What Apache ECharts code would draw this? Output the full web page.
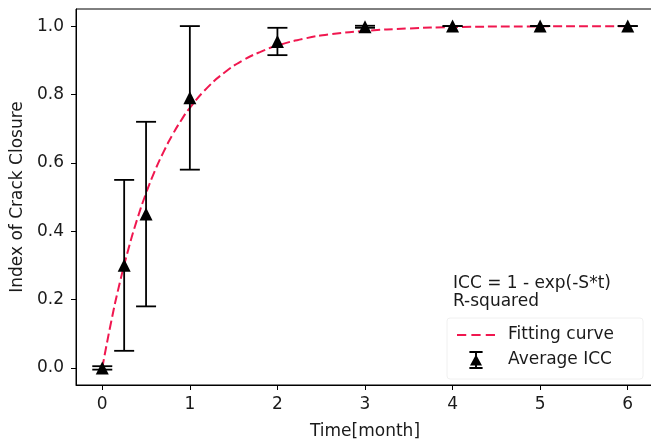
<!DOCTYPE html>
<html><head><meta charset="utf-8">
<script src="https://cdn.jsdelivr.net/npm/echarts@6/dist/echarts.min.js"></script>
<style>html,body{margin:0;padding:0;background:#fff}#c{width:651px;height:441px}</style>
</head><body><div id="c"></div>
<script>
// Measured averages with symmetric error (std)
const times = [0, 0.25, 0.5, 1, 2, 3, 4, 5, 6];
const avgICC = [0, 0.30, 0.45, 0.79, 0.955, 0.998, 1.0, 1.0, 1.0];
const errICC = [0.005, 0.25, 0.27, 0.21, 0.04, 0.003, 0, 0, 0];
// Fitting curve
const fitT = [0, 0.1, 0.2, 0.3, 0.4, 0.5, 0.6, 0.7, 0.8, 0.9, 1.0, 1.2, 1.4, 1.6, 1.8, 2.0, 2.3, 2.6, 3.0, 3.5, 4.0, 5.0, 6.0];
const fitICC = [0, 0.133, 0.249, 0.349, 0.436, 0.511, 0.576, 0.632, 0.681, 0.724, 0.761, 0.820, 0.865, 0.899, 0.924, 0.943, 0.963, 0.976, 0.986, 0.993, 0.997, 0.9992, 0.9998];
const xTicks = [0, 1, 2, 3, 4, 5, 6];
const yTicks = [0, 0.2, 0.4, 0.6, 0.8, 1.0];

const FONT = 'DejaVu Sans';
const FS = 17;
const TXT = '#1a1a1a';
const RED = '#f0174f';

const chart = echarts.init(document.getElementById('c'), null, {renderer: 'canvas'});
chart.setOption({
  animation: false,
  backgroundColor: '#fff',
  grid: {left: 76, top: 9, right: -3, bottom: 56, outerBoundsMode: 'none', containLabel: false, show: true, borderColor: '#000', borderWidth: 1, backgroundColor: 'transparent'},
  xAxis: {
    type: 'value', min: -0.3, max: 6.3,
    name: 'Time[month]', nameLocation: 'middle', nameGap: 38,
    nameTextStyle: {fontFamily: FONT, fontSize: FS, color: TXT},
    axisLine: {show: true, onZero: false, lineStyle: {color: '#000', width: 1}},
    axisTick: {show: true, inside: false, length: 5, customValues: xTicks, lineStyle: {color: '#000'}},
    axisLabel: {customValues: xTicks, fontFamily: FONT, fontSize: FS, color: TXT, margin: 11, formatter: v => String(v)},
    splitLine: {show: false}
  },
  yAxis: {
    type: 'value', min: -0.05, max: 1.05,
    name: 'Index of Crack Closure', nameLocation: 'middle', nameGap: 48, nameRotate: 90,
    nameTextStyle: {fontFamily: FONT, fontSize: FS, color: TXT},
    axisLine: {show: true, onZero: false, lineStyle: {color: '#000', width: 1}},
    axisTick: {show: true, inside: false, length: 5, customValues: yTicks, lineStyle: {color: '#000'}},
    axisLabel: {customValues: yTicks, fontFamily: FONT, fontSize: FS, color: TXT, margin: 12, formatter: v => v.toFixed(1)},
    splitLine: {show: false}
  },
  legend: {
    orient: 'vertical', left: 457, top: 326, itemGap: 7, itemWidth: 38, itemHeight: 18, padding: 0,
    textStyle: {fontFamily: FONT, fontSize: FS, color: TXT, lineHeight: 18, padding: [0, 0, 0, 8]},
    data: [
      {name: 'Fitting curve', icon: 'path://M0,0H9V2H0Z M14,0H23V2H14Z M28,0H37V2H28Z', itemStyle: {color: RED}},
      {name: 'Average ICC', icon: 'path://M0,0H11V1.6H0Z M4.7,0H6.3V15H4.7Z M0,13.4H11V15H0Z M5.5,3L10.5,12H0.5Z', itemStyle: {color: '#000'}}
    ]
  },
  graphic: [
    {type: 'rect', shape: {x: 447, y: 318, width: 196, height: 61, r: 3}, style: {fill: 'none', stroke: '#f0f0f0', lineWidth: 1}},
    {type: 'text', left: 453, top: 275, style: {text: 'ICC = 1 - exp(-S*t)', font: FS + 'px ' + FONT, fill: TXT}},
    {type: 'text', left: 453, top: 293, style: {text: 'R-squared', font: FS + 'px ' + FONT, fill: TXT}}
  ],
  series: [
    {
      name: 'Fitting curve', type: 'line', smooth: true, symbol: 'none', z: 3,
      data: fitT.map((t, i) => [t, fitICC[i]]),
      lineStyle: {color: RED, width: 2, type: [9, 4]},
      itemStyle: {color: RED}
    },
    {
      name: 'errorbars', type: 'custom', z: 4,
      data: times.map((t, i) => [t, avgICC[i] - errICC[i], avgICC[i] + errICC[i]]),
      renderItem: function (params, api) {
        const lo = api.coord([api.value(0), api.value(1)]);
        const hi = api.coord([api.value(0), api.value(2)]);
        const hw = 10;
        const st = {stroke: '#000', lineWidth: 1.8};
        return {type: 'group', children: [
          {type: 'line', shape: {x1: lo[0], y1: lo[1], x2: hi[0], y2: hi[1]}, style: st},
          {type: 'line', shape: {x1: lo[0] - hw, y1: lo[1], x2: lo[0] + hw, y2: lo[1]}, style: st},
          {type: 'line', shape: {x1: hi[0] - hw, y1: hi[1], x2: hi[0] + hw, y2: hi[1]}, style: st}
        ]};
      }
    },
    {
      name: 'Average ICC', type: 'scatter', symbol: 'triangle', symbolSize: 13, z: 6,
      data: times.map((t, i) => [t, avgICC[i]]),
      itemStyle: {color: '#000', opacity: 1}
    }
  ]
});
</script></body></html>
